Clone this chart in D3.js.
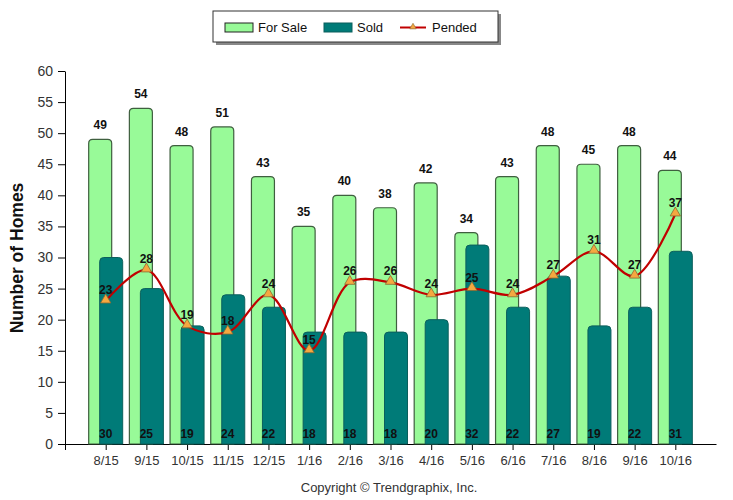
<!DOCTYPE html>
<html><head><meta charset="utf-8">
<script src="https://cdn.jsdelivr.net/npm/d3@7"></script>
<style>body{margin:0;background:#fff}svg{display:block}</style>
</head><body>
<script>
const categories = ["8/15","9/15","10/15","11/15","12/15","1/16","2/16","3/16","4/16","5/16","6/16","7/16","8/16","9/16","10/16"];
const forSale = [49,54,48,51,43,35,40,38,42,34,43,48,45,48,44];
const sold = [30,25,19,24,22,18,18,18,20,32,22,27,19,22,31];
const pended = [23,28,19,18,24,15,26,26,24,25,24,27,31,27,37];
const yTicks = [0,5,10,15,20,25,30,35,40,45,50,55,60];

const W = 733, H = 500;
const svg = d3.select("body").append("svg").attr("width", W).attr("height", H);
const font = "'Liberation Sans', Arial, sans-serif";

const x = d3.scaleLinear().domain([0, categories.length + 1]).range([65, 716]);
const y = d3.scaleLinear().domain([0, 60]).range([444, 71]);
const bw = 23, off = 5.5;

// y axis
const ya = svg.append("g").attr("transform", "translate(65,0)")
  .call(d3.axisLeft(y).tickValues(yTicks).tickSize(7).tickPadding(5).tickSizeOuter(0));
ya.select(".domain").attr("stroke", "#000");
ya.selectAll("line").attr("stroke", "#000");
ya.selectAll("text").attr("font-family", font).attr("font-size", 14).attr("fill", "#333");

// x axis
const xa = svg.append("g").attr("transform", "translate(0,444)")
  .call(d3.axisBottom(x).tickValues(d3.range(0, categories.length + 1))
    .tickFormat(i => i >= 1 ? categories[i - 1] : "").tickSize(6).tickSizeOuter(0));
xa.select(".domain").attr("stroke", "#000");
xa.selectAll("line").attr("stroke", "#000");
xa.selectAll("text").attr("font-family", font).attr("font-size", 13).attr("fill", "#333").attr("dy", "0.95em");

function topRounded(x0, y0, w, h, r) {
  r = Math.min(r, h);
  return `M${x0},${y0 + h}V${y0 + r}Q${x0},${y0} ${x0 + r},${y0}H${x0 + w - r}Q${x0 + w},${y0} ${x0 + w},${y0 + r}V${y0 + h}Z`;
}

const g = svg.append("g");
// For sale bars
g.selectAll(".fs").data(forSale).join("path")
  .attr("d", (d, i) => topRounded(x(i + 1) - off - bw / 2, y(d), bw, y(0) - y(d), 4))
  .attr("fill", "#98FA98").attr("stroke", "#3f5f3f").attr("stroke-width", 1.2);
// Sold bars
g.selectAll(".sd").data(sold).join("path")
  .attr("d", (d, i) => topRounded(x(i + 1) + off - bw / 2, y(d), bw, y(0) - y(d), 4))
  .attr("fill", "#007B78").attr("stroke", "#0b5f5c").attr("stroke-width", 1);

// line
const line = d3.line().x((d, i) => x(i + 1)).y(d => y(d)).curve(d3.curveCatmullRom.alpha(0.5));
g.append("path").datum(pended).attr("d", line).attr("fill", "none").attr("stroke", "#C00000").attr("stroke-width", 2.2);

// markers
g.selectAll(".mk").data(pended).join("path")
  .attr("d", d3.symbol().type(d3.symbolTriangle).size(46))
  .attr("transform", (d, i) => `translate(${x(i + 1)},${y(d) - 1})`)
  .attr("fill", "#F5A840").attr("stroke", "#8a6a30").attr("stroke-width", 0.8);

// labels
const lab = svg.append("g").attr("font-family", font).attr("font-size", 12).attr("font-weight", "bold").attr("fill", "#111").attr("text-anchor", "middle");
lab.selectAll(".lf").data(forSale).join("text")
  .attr("x", (d, i) => x(i + 1) - off).attr("y", d => y(d) - 10).text(d => d);
lab.selectAll(".lp").data(pended).join("text")
  .attr("x", (d, i) => x(i + 1)).attr("y", d => y(d) - 7).text(d => d);
lab.selectAll(".ls").data(sold).join("text")
  .attr("x", (d, i) => x(i + 1)).attr("y", 438).text(d => d);

// y label
svg.append("text").attr("transform", "translate(23,258) rotate(-90)").attr("text-anchor", "middle")
  .attr("font-family", font).attr("font-size", 17.5).attr("font-weight", "bold").attr("fill", "#111").text("Number of Homes");

// copyright
svg.append("text").attr("x", 389).attr("y", 492).attr("text-anchor", "middle")
  .attr("font-family", font).attr("font-size", 13).attr("fill", "#333").text("Copyright © Trendgraphix, Inc.");

// legend
const lg = svg.append("g");
lg.append("rect").attr("x", 216).attr("y", 14).attr("width", 285).attr("height", 31).attr("fill", "#888");
lg.append("rect").attr("x", 213).attr("y", 11).attr("width", 285).attr("height", 31).attr("fill", "#fff").attr("stroke", "#333").attr("stroke-width", 1);
lg.append("rect").attr("x", 225).attr("y", 23).attr("width", 28).attr("height", 9).attr("fill", "#98FA98").attr("stroke", "#222");
lg.append("text").attr("x", 258).attr("y", 32).attr("font-family", font).attr("font-size", 13).attr("fill", "#111").text("For Sale");
lg.append("rect").attr("x", 324).attr("y", 23).attr("width", 28).attr("height", 9).attr("fill", "#007B78").attr("stroke", "#0b5f5c");
lg.append("text").attr("x", 357).attr("y", 32).attr("font-family", font).attr("font-size", 13).attr("fill", "#111").text("Sold");
lg.append("line").attr("x1", 400).attr("x2", 426).attr("y1", 27.5).attr("y2", 27.5).attr("stroke", "#C00000").attr("stroke-width", 2);
lg.append("path").attr("d", d3.symbol().type(d3.symbolTriangle).size(18)).attr("transform", "translate(413,27)")
  .attr("fill", "#F5A840").attr("stroke", "#8a6a30").attr("stroke-width", 0.6);
lg.append("text").attr("x", 432).attr("y", 32).attr("font-family", font).attr("font-size", 13).attr("fill", "#111").text("Pended");
</script>
</body></html>
